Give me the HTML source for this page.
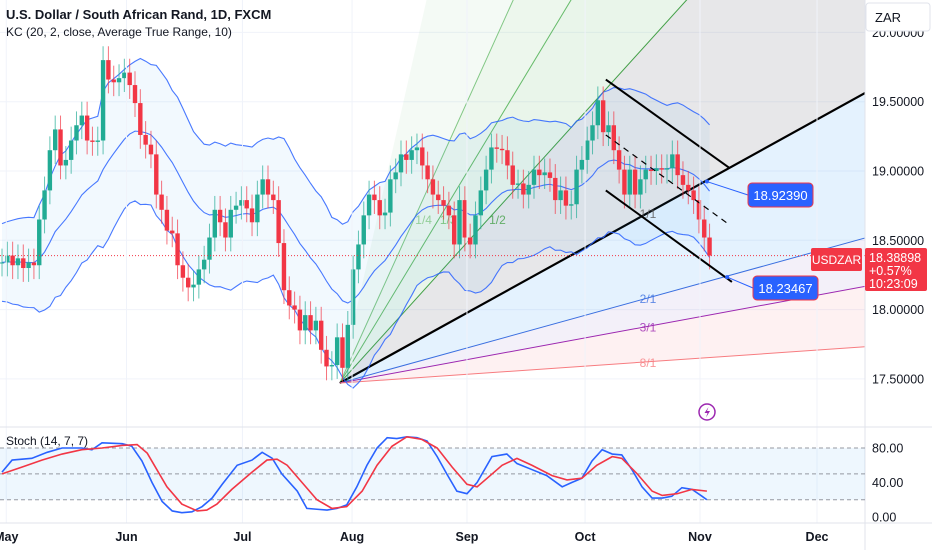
<!DOCTYPE html>
<html><head><meta charset="utf-8"><style>
html,body{margin:0;padding:0;background:#fff;}
svg{display:block;font-family:"Liberation Sans",sans-serif;}
</style></head><body>
<svg id="c" width="932" height="550" viewBox="0 0 932 550"></svg>
<script>
const closes=[18.34,18.39,18.32,18.37,18.30,18.34,18.32,18.65,18.86,19.15,19.30,19.04,19.08,19.22,19.33,19.40,19.22,19.21,19.22,19.80,19.66,19.64,19.67,19.71,19.62,19.49,19.26,19.19,19.12,18.83,18.72,18.57,18.55,18.32,18.23,18.16,18.18,18.29,18.36,18.52,18.72,18.63,18.52,18.72,18.75,18.79,18.73,18.63,18.83,18.94,18.83,18.79,18.48,18.14,18.03,18.00,17.85,17.96,17.85,17.92,17.71,17.59,17.60,17.80,17.58,17.89,18.29,18.47,18.68,18.83,18.79,18.68,18.70,18.94,18.99,19.12,19.08,19.15,19.17,19.04,18.94,18.83,18.79,18.75,18.68,18.47,18.79,18.52,18.47,18.68,18.86,19.01,19.17,19.16,19.15,19.04,18.90,18.91,18.83,18.90,19.01,18.97,18.99,18.95,18.79,18.86,18.75,18.76,19.01,19.08,19.22,19.33,19.51,19.28,19.33,19.15,19.01,18.83,19.01,18.83,18.94,19.01,19.00,19.02,19.01,19.02,19.12,18.97,18.90,18.86,18.79,18.65,18.52,18.39];
const priceTicks=[17.5,18.0,18.5,19.0,19.5,20.0];
const monthLabels=["May","Jun","Jul","Aug","Sep","Oct","Nov","Dec"];
const monthIdx=[0.8,23.4,45.2,65.8,87.4,109.6,131.2,153.2];
const stochKIdx=[0,1.9,5.6,8.5,11.3,15,16.9,18.8,22.6,24.4,26.3,28.2,30.1,32,33.8,35.7,37.6,39.5,41.4,44.2,47,48.9,50.8,52.6,55.5,57.3,59.2,61.1,63,64.8,66.7,68.6,70.5,72.4,74.2,76.1,78,79.9,81.8,83.6,85.5,87.4,89.3,92.1,94.9,96.8,99.6,102.4,105.3,107.1,109,110.9,112.8,114.7,116.5,118.4,120.3,122.2,124.1,125.9,127.8,129.7,131.6,132.5];
const stochK=[52,66,68,75,80,80,78,86,85,82,65,40,18,7,5,6,12,22,38,60,66,75,68,50,30,10,9,8,10,14,35,60,80,92,91,93,92,88,70,50,30,27,40,70,73,62,55,48,35,40,45,65,78,73,72,55,35,22,22,24,34,32,24,20];
const stochDIdx=[0,3.8,7.5,11.3,15,18.8,22.6,25.4,27.3,29.1,31,33.8,36.7,38.5,40.4,43.2,47,49.8,51.7,53.6,56.4,59.2,62,64.8,67.7,70.5,73.3,76.1,78.9,81.8,84.6,87.4,89.3,91.2,94,96.8,99.6,103.4,106.2,109,111.8,114.7,116.5,119.4,122.2,124.1,126.9,129.7,132.5];
const stochD=[50,58,66,73,78,80,83,84,74,55,35,15,7,8,15,32,52,66,67,60,40,20,10,12,30,60,82,93,90,80,58,38,35,45,60,68,60,48,43,45,60,70,68,50,30,25,27,32,30];
const stochLevels=[80,50,20];
const stochTicks=[80,40,0];
const lastPrice=18.38898;
const fanOrigin=[63.5,17.47];
const fanUnit=0.0212;
const fanRatios=[[1/8,""],[1/4,"1/4"],[1/3,"1/3"],[1/2,"1/2"],[1,"1/1"],[2,"2/1"],[3,"3/1"],[8,"8/1"]];
const chanUpper=[[113.5,19.66],[136.8,19.02]];
const chanLower=[[113.5,18.86],[137.2,18.20]];
const chanMid=[[113.5,19.26],[136.8,18.61]];
const measureA=[132.5,18.9239];
const measureB=[136.3,18.23467];

const NS="http://www.w3.org/2000/svg";
const svg=document.getElementById('c');
const PX=865;
const xS=i=>2+i*5.32;
const yS=p=>171-(p-19)*138.6;
const yT=v=>517-v*0.8625;
function el(t,a,p){const e=document.createElementNS(NS,t);for(const k in a)e.setAttribute(k,a[k]);(p||svg).appendChild(e);return e;}
function txt(x,y,s,a,p){const e=el('text',Object.assign({x:x,y:y},a),p);e.textContent=s;return e;}

const defs=el('defs',{});
const cp=el('clipPath',{id:'main'},defs);el('rect',{x:0,y:0,width:PX,height:427},cp);
const gMain=el('g',{'clip-path':'url(#main)'});



monthIdx.forEach(i=>{el('line',{x1:xS(i),x2:xS(i),y1:0,y2:523,stroke:'#f0f3fa','stroke-width':1});});
priceTicks.forEach(p=>{el('line',{x1:0,x2:PX,y1:yS(p),y2:yS(p),stroke:'#f0f3fa'},gMain);});

const O=[xS(fanOrigin[0]),yS(fanOrigin[1])];
function fanEnd(r){const slope=(fanUnit/r)*138.6/5.32;let x=PX+200;let y=O[1]-slope*(x-O[0]);return [x,y];}
const fills=['rgba(76,175,80,0.06)','rgba(76,175,80,0.10)','rgba(76,175,80,0.12)','rgba(120,123,134,0.18)','rgba(33,150,243,0.12)','rgba(103,58,183,0.08)','rgba(242,54,69,0.07)'];
const gFan=el('g',{},gMain);


for(let k=0;k<fanRatios.length-1;k++){const a=fanEnd(fanRatios[k][0]),b=fanEnd(fanRatios[k+1][0]);
 el('polygon',{points:`${O[0]},${O[1]} ${a[0]},${a[1]} ${b[0]},${b[1]}`,fill:fills[k]},gFan);}
const fanCols={"1/4":"#81c784","1/3":"#66bb6a","1/2":"#43a047","1/1":"#000","2/1":"#3a6fe0","3/1":"#9c27b0","8/1":"#f77c80"};
const labelX=648;
fanRatios.forEach(([r,l])=>{if(!l)return;const e=fanEnd(r);
 const ln=el('line',{x1:O[0],y1:O[1],x2:e[0],y2:e[1],stroke:fanCols[l],'stroke-width':l==="1/1"?2.2:1},gFan);
 
 
});

let ema=closes[0],atr=0.2;const up=[],mid=[],lo=[];
const ohlc=closes.map((c,i)=>{const o=i?closes[i-1]:c;return [o,Math.max(o,c)+0.07,Math.min(o,c)-0.07,c];});
ohlc.forEach((d,i)=>{const pc=i?closes[i-1]:d[3];const tr=Math.max(d[1]-d[2],Math.abs(d[1]-pc),Math.abs(d[2]-pc));
 if(i===0){ema=d[3];atr=tr;}else{ema=ema+(d[3]-ema)*2/21;atr=atr+(tr-atr)/10;}
 mid.push(ema);up.push(ema+2*atr);lo.push(ema-2*atr);});
const bandPts=up.map((v,i)=>`${xS(i)},${yS(v)}`).concat(lo.map((v,i)=>`${xS(i)},${yS(v)}`).reverse()).join(' ');
const bf=el('polygon',{points:bandPts,fill:'rgba(33,150,243,0.06)'},gMain);


[up,mid,lo].forEach((arr,k)=>{const pl=el('polyline',{points:arr.map((v,i)=>`${xS(i)},${yS(v)}`).join(' '),fill:'none',stroke:'#2962ff','stroke-width':1.1,'stroke-opacity':0.85},gMain);
 
 });

fanRatios.forEach(([r,l])=>{if(!l)return;let x,y;const slope=(fanUnit/r)*138.6/5.32;
 if(r<1){y=224;x=O[0]+(O[1]-y+4)/slope+10;}else{x=labelX;y=O[1]-slope*(x-O[0])+5;}
 const t=txt(x,y,l,{'font-size':12,fill:fanCols[l]==='#000'?'#555':fanCols[l],'fill-opacity':0.8,'text-anchor':'middle'},gMain);
 
 });

const gC=el('g',{},gMain);


ohlc.forEach((d,i)=>{const [o,h,l,c]=d;const col=c>=o?'#22ab94':'#f23645';const x=xS(i);
 el('line',{x1:x,x2:x,y1:yS(h+0.03),y2:yS(l-0.03),stroke:col,'stroke-width':1,'stroke-opacity':0.7},gC);
 const t=Math.min(yS(o),yS(c)),hh=Math.max(1,Math.abs(yS(o)-yS(c)));
 const r=el('rect',{x:x-2.2,y:t,width:4.4,height:hh,fill:col},gC);
 
 });

el('line',{x1:0,x2:PX,y1:yS(lastPrice),y2:yS(lastPrice),stroke:'#f23645','stroke-width':1,'stroke-dasharray':'1 2'},gMain);

function seg(p,dash,name){const l=el('line',{x1:xS(p[0][0]),y1:yS(p[0][1]),x2:xS(p[1][0]),y2:yS(p[1][1]),stroke:'#000','stroke-width':dash?1.2:2,'stroke-dasharray':dash?'6 5':'none'},gMain);
 
 }
seg(chanUpper,false,'channel-upper');seg(chanLower,false,'channel-lower');seg(chanMid,true,'channel-median');

function measure(m,bx,by,name){const x=xS(m[0]),y=yS(m[1]);
 el('line',{x1:x,y1:y,x2:bx,y2:by+12,stroke:'#2962ff','stroke-width':1},gMain);
 el('circle',{cx:x,cy:y,r:2,fill:'#2962ff'},gMain);
 const g=el('g',{});
 
 
 el('rect',{x:bx,y:by,width:65,height:24,rx:4,fill:'#2962ff',stroke:'#f23645','stroke-width':1},g);
 txt(bx+32.5,by+17,m[1].toFixed(5),{'font-size':13,fill:'#fff','text-anchor':'middle'},g);}
measure(measureA,748,183,'price-label-upper');measure(measureB,753,276,'price-label-lower');

const li=el('g',{});


el('circle',{cx:707,cy:412,r:8,fill:'#fff',stroke:'#9c27b0','stroke-width':1.5},li);
el('path',{d:'M708.5 407 L704.5 413 L707.5 413 L706 417.5 L710 411 L707 411 Z',fill:'#9c27b0'},li);

el('line',{x1:PX,x2:PX,y1:0,y2:550,stroke:'#e0e3eb'});
el('line',{x1:0,x2:932,y1:427,y2:427,stroke:'#e0e3eb'});
el('line',{x1:0,x2:932,y1:523,y2:523,stroke:'#e0e3eb'});
priceTicks.forEach(p=>{const t=txt(872,yS(p)+4.5,p.toFixed(5),{'font-size':12.5,fill:'#131722'});
 
 });
const zar=el('g',{});


el('rect',{x:866,y:3,width:64,height:28,fill:'#fff',stroke:'#e0e3eb',rx:3},zar);
txt(875,22,'ZAR',{'font-size':13,fill:'#131722'},zar);

const lp=el('g',{});


el('rect',{x:811,y:248,width:51,height:23,rx:2,fill:'#f23645'},lp);
txt(836.5,264,'USDZAR',{'font-size':12,fill:'#fff','text-anchor':'middle'},lp);
el('rect',{x:865,y:248,width:62,height:43,rx:2,fill:'#f23645'},lp);
txt(869,262,lastPrice.toFixed(5),{'font-size':12.5,fill:'#fff'},lp);
txt(869,275,'+0.57%',{'font-size':12.5,fill:'#fff'},lp);
txt(869,288,'10:23:09',{'font-size':12.5,fill:'#fff'},lp);

const t1=txt(6,19,'U.S. Dollar / South African Rand, 1D, FXCM',{'font-size':13,fill:'#131722','font-weight':'bold'});


const t2=txt(6,36,'KC (20, 2, close, Average True Range, 10)',{'font-size':12,fill:'#131722'});



const sp=el('g',{});


el('rect',{x:0,y:yT(80),width:PX,height:yT(20)-yT(80),fill:'rgba(33,150,243,0.08)'},sp);
stochLevels.forEach(v=>el('line',{x1:0,x2:PX,y1:yT(v),y2:yT(v),stroke:'#9598a1','stroke-dasharray':'4 3','stroke-width':1},sp));
const kl=el('polyline',{points:stochK.map((v,i)=>`${xS(stochKIdx[i])},${yT(v)}`).join(' '),fill:'none',stroke:'#2962ff','stroke-width':1.6},sp);


const dl=el('polyline',{points:stochD.map((v,i)=>`${xS(stochDIdx[i])},${yT(v)}`).join(' '),fill:'none',stroke:'#f23645','stroke-width':1.6},sp);


const st=txt(6,445,'Stoch (14, 7, 7)',{'font-size':12,fill:'#131722'});


stochTicks.forEach(v=>{const t=txt(872,yT(v)+4.5,v.toFixed(2),{'font-size':12.5,fill:'#131722'});
 
 });

monthLabels.forEach((m,i)=>{const t=txt(xS(monthIdx[i]),541,m,{'font-size':12.5,fill:'#131722','font-weight':'bold','text-anchor':'middle'});
 
 });
</script>
</body></html>
